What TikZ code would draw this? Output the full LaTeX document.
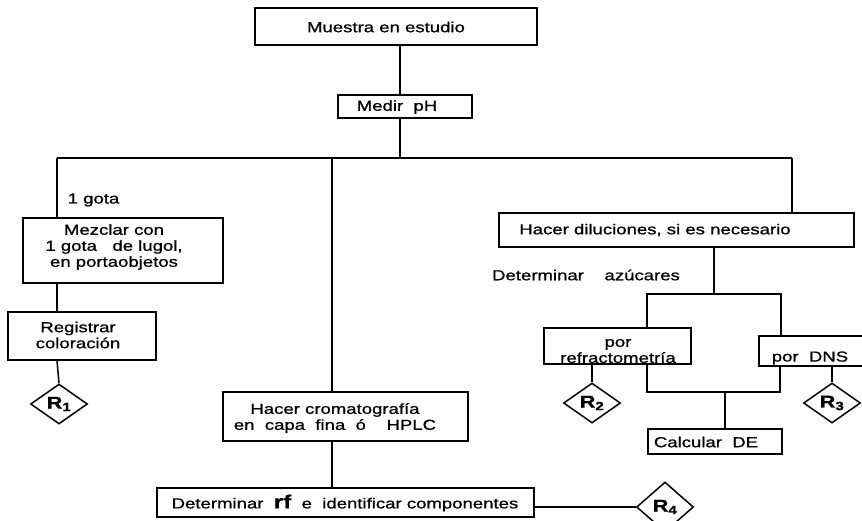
\documentclass[tikz,border=0pt]{standalone}
\usepackage{fontspec}
\setmainfont[FakeStretch=1.28,FakeBold=0.9]{Liberation Sans}
\usetikzlibrary{shapes.geometric}

% box given by its name and corners (x1,y1,x2,y2), y grows downwards
\newcommand\flowbox[5]{%
  \node[box, minimum width={(#4-#2)*1pt}, minimum height={(#5-#3)*1pt}]
    (#1) at ({(#2+#4)/2},{(#3+#5)/2}) {};}

\begin{document}
\begin{tikzpicture}[x=1pt, y=-1pt, line width=1.5pt,
  box/.style={draw, rectangle, inner sep=0pt},
  txt/.style={inner sep=0pt, align=center, font=\fontsize{14.5}{16}\selectfont},
  res/.style={draw, diamond, inner sep=0pt, minimum width=57pt,
    minimum height=40pt, font=\fontsize{17}{16}\selectfont\bfseries}]
\useasboundingbox (0,0) rectangle (862,520);

% boxes
\flowbox{muestra}{255}{8}{537}{45}
\flowbox{medir}{338}{95}{472}{118}
\flowbox{mezclar}{23}{218}{223}{283}
\flowbox{reg}{8}{312}{156}{360}
\flowbox{croma}{223}{392}{468}{441}
\flowbox{rf}{157}{488}{534}{517}
\flowbox{dil}{499}{213}{854}{247}
\flowbox{refr}{544}{328}{691}{364}
\flowbox{dns}{759}{336}{872}{366}
\flowbox{calc}{648}{429}{782}{454}

% texts
\node[txt] (t-muestra) at (386,27) {Muestra en estudio};
\node[txt] (t-medir) at (397,107) {Medir~ pH};
\node[txt, anchor=west] (t-gota) at (67,200) {1 gota};
\node[txt] (t-mezclar) at (114,247) {Mezclar con\\ 1 gota~~ de lugol,\\en portaobjetos};
\node[txt] (t-reg) at (78,335) {Registrar\\coloración};
\node[txt] (t-croma) at (335,418) {Hacer cromatografía\\en~ capa~ fina~ ó~~~ HPLC};
\node[txt] (t-rf) at (345,503) {Determinar~ {\fontsize{19}{16}\selectfont\bfseries rf}~ e~ identificar componentes};
\node[txt] (t-dil) at (655,230) {Hacer diluciones, si es necesario};
\node[txt] (t-azu) at (586,275) {Determinar~~~ azúcares};
\node[txt] (t-refr) at (618,351) {por\\refractometría};
\node[txt] (t-dns) at (810,358) {por~ DNS};
\node[txt] (t-calc) at (706,442) {Calcular~ DE};

% results
\node[res] (r1) at (59,404) {R\textsubscript{1}};
\node[res] (r2) at (592,403) {R\textsubscript{2}};
\node[res] (r3) at (832,403) {R\textsubscript{3}};
\node[res, minimum height=50pt] (r4) at (665,507) {R\textsubscript{4}};

% branching points
\coordinate (trunk) at (400,158);
\coordinate (busL) at (57,158);
\coordinate (busM) at (332,158);
\coordinate (busR) at (792,158);
\coordinate (split) at (714,294);
\coordinate (azL) at (647,294);
\coordinate (azR) at (781,294);
\coordinate (jL) at (647,392);
\coordinate (jM) at (725,392);
\coordinate (jR) at (780,392);

% connectors
\draw (trunk |- muestra.south) -- (trunk |- medir.north);
\draw (trunk |- medir.south) -- (trunk);
\draw (busL) -- (busR);
\draw (busL) -- (busL |- mezclar.north);
\draw (busM) -- (busM |- croma.north);
\draw (busR) -- (busR |- dil.north);
\draw (busL |- mezclar.south) -- (busL |- reg.north);
\draw (busL |- reg.south) -- (r1.north);
\draw (busM |- croma.south) -- (busM |- rf.north);
\draw (r4.west -| rf.east) -- (r4.west);
\draw (split |- dil.south) -- (split);
\draw (azL |- refr.north) -- (azL) -- (azR) -- (azR |- dns.north);
\draw (jL |- refr.south) -- (jL) -- (jR) -- (jR |- dns.south);
\draw (jM) -- (jM |- calc.north);
\draw (r2 |- refr.south) -- (r2.north);
\draw (r3 |- dns.south) -- (r3.north);
\end{tikzpicture}
\end{document}
